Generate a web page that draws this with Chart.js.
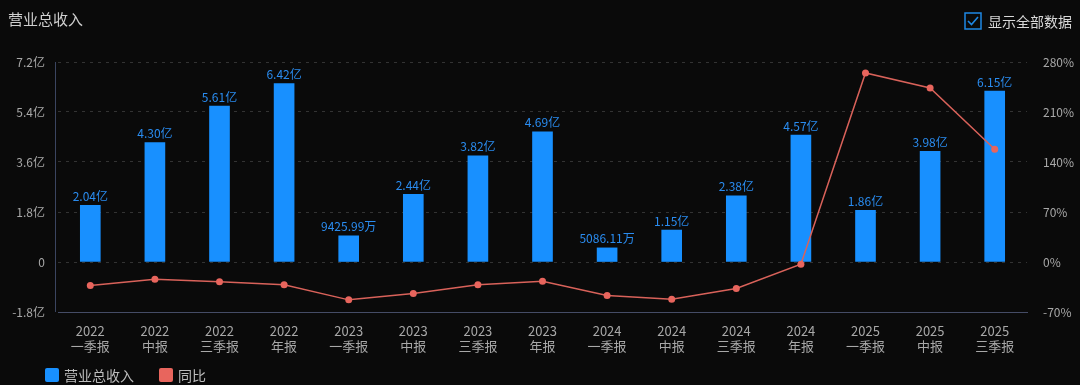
<!DOCTYPE html>
<html>
<head>
<meta charset="utf-8">
<script src="https://cdn.jsdelivr.net/npm/chart.js@4"></script>
<style>
  html, body { margin: 0; padding: 0; background: #0a0a0a; }
  #wrap { position: relative; width: 1080px; height: 385px; overflow: hidden; font-family: "Noto Sans CJK SC", sans-serif; }
  #title { position: absolute; left: 8px; top: 8px; color: #cfcfcf; font-size: 15px; }
  #toggle { position: absolute; left: 964px; top: 11px; color: #d8d8d8; font-size: 14px; display: flex; align-items: center; }
  #toggle svg { margin-right: 6px; }
  #legend { position: absolute; left: 45px; top: 365px; color: #bdbdbd; font-size: 14px; display: flex; }
  #legend span.item { display: flex; align-items: center; margin-right: 25px; }
  #legend i { display: inline-block; width: 14px; height: 14px; border-radius: 2px; margin-right: 5px; }
  canvas { position: absolute; left: 0; top: 0; }
</style>
</head>
<body>
<div id="wrap">
  <canvas id="chart" width="1080" height="385"></canvas>
  <div id="title">营业总收入</div>
  <div id="toggle">
    <svg width="18" height="18" viewBox="0 0 18 18">
      <rect x="1" y="1" width="16" height="16" fill="none" stroke="#1e88e5" stroke-width="1.5"/>
      <path d="M4 9 L7.5 12.5 L14 5" fill="none" stroke="#1e88e5" stroke-width="1.6"/>
    </svg>
    显示全部数据
  </div>
  <div id="legend">
    <span class="item"><i style="background:#1890ff"></i>营业总收入</span>
    <span class="item"><i style="background:#e8655d"></i>同比</span>
  </div>
</div>
<script>
const years = ["2022", "2022", "2022", "2022", "2023", "2023", "2023", "2023", "2024", "2024", "2024", "2024", "2025", "2025", "2025"];
const periods = ["一季报", "中报", "三季报", "年报", "一季报", "中报", "三季报", "年报", "一季报", "中报", "三季报", "年报", "一季报", "中报", "三季报"];
// 营业总收入, 亿元
const revenue = [2.04, 4.30, 5.61, 6.42, 0.942599, 2.44, 3.82, 4.69, 0.508611, 1.15, 2.38, 4.57, 1.86, 3.98, 6.15];
// 同比, %
const yoy = [-33, -24, -27.5, -32, -53, -44, -32, -27, -47, -52, -37, -3, 264.6, 243.6, 157.8];

const labels = years.map((y, i) => [y, periods[i]]);

function fmtRevenue(v) {
  if (v < 1) return (v * 10000).toFixed(2) + "万";
  return v.toFixed(2) + "亿";
}

const barLabels = {
  id: "barLabels",
  afterDatasetsDraw(chart) {
    const ctx = chart.ctx;
    const meta = chart.getDatasetMeta(0);
    ctx.save();
    ctx.fillStyle = "#2a8cf0";
    ctx.font = "12px 'Noto Sans CJK SC', sans-serif";
    ctx.textAlign = "center";
    ctx.textBaseline = "bottom";
    meta.data.forEach((bar, i) => {
      ctx.fillText(fmtRevenue(revenue[i]), bar.x, bar.y - 3);
    });
    ctx.restore();
  }
};

const leftAxisLine = {
  id: "leftAxisLine",
  afterDraw(chart) {
    const a = chart.chartArea, ctx = chart.ctx;
    ctx.save();
    ctx.strokeStyle = "#3b4560";
    ctx.lineWidth = 1;
    ctx.beginPath();
    ctx.moveTo(a.left - 2.5, a.top);
    ctx.lineTo(a.left - 2.5, a.bottom);
    ctx.stroke();
    ctx.restore();
  }
};

new Chart(document.getElementById("chart"), {
  data: {
    labels: labels,
    datasets: [
      {
        type: "bar",
        label: "营业总收入",
        data: revenue,
        backgroundColor: "#1890ff",
        barThickness: 20,
        yAxisID: "y",
        order: 2
      },
      {
        type: "line",
        label: "同比",
        data: yoy,
        borderColor: "#d9625a",
        backgroundColor: "#e8655d",
        borderWidth: 1.5,
        pointRadius: 3.5,
        pointBorderWidth: 0,
        tension: 0,
        yAxisID: "y1",
        order: 1
      }
    ]
  },
  options: {
    responsive: false,
    animation: false,
    layout: { padding: { top: 62, left: 0, right: 0, bottom: 0 } },
    plugins: {
      legend: { display: false },
      tooltip: { enabled: false }
    },
    scales: {
      x: {
        grid: { display: false },
        border: { color: "#454c66", width: 1 },
        ticks: {
          color: "#a8a8a8",
          font: { size: 13, family: "'Noto Sans CJK SC', sans-serif", lineHeight: 1.15 },
          maxRotation: 0,
          autoSkip: false,
          padding: 4
        },
        afterFit(scale) { scale.height = 73; }
      },
      y: {
        position: "left",
        min: -1.8,
        max: 7.2,
        grid: { color: "#333333", lineWidth: 1, drawTicks: false },
        border: { display: false, dash: [3, 5] },
        ticks: {
          stepSize: 1.8,
          color: "#a8a8a8",
          padding: 13,
          font: { size: 12, family: "'Noto Sans CJK SC', sans-serif" },
          callback: v => (Math.abs(v) < 1e-9 ? "0" : v.toFixed(1) + "亿")
        },
        afterFit(scale) { scale.width = 58; }
      },
      y1: {
        position: "right",
        min: -70,
        max: 280,
        grid: { display: false },
        border: { display: false },
        ticks: {
          stepSize: 70,
          color: "#a8a8a8",
          padding: 8,
          font: { size: 12, family: "'Noto Sans CJK SC', sans-serif" },
          callback: v => v + "%"
        },
        afterFit(scale) { scale.width = 53; }
      }
    }
  },
  plugins: [barLabels, leftAxisLine]
});
</script>
</body>
</html>
